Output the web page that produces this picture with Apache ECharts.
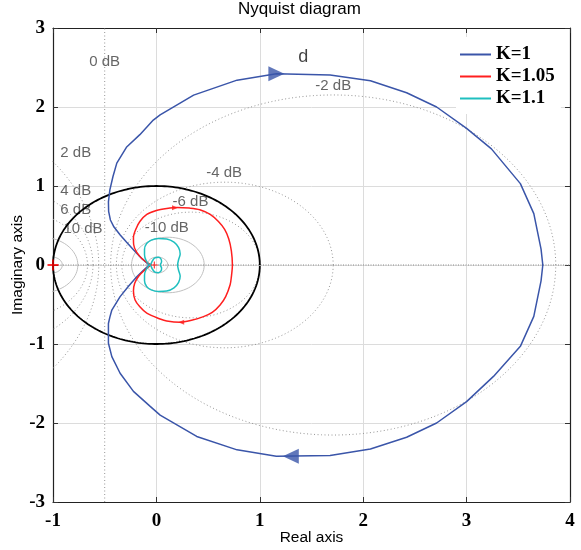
<!DOCTYPE html>
<html><head><meta charset="utf-8">
<script src="https://cdn.jsdelivr.net/npm/echarts@6/dist/echarts.min.js"></script>
<style>html,body{margin:0;padding:0;background:#fff}#c{width:581px;height:550px}</style>
</head><body><div id="c"></div>
<script>
// ---- axis ranges ----
const xRange = [-1, 4];
const yRange = [-3, 3];

// ---- M-circle levels (dB) ----
const dottedLevels = [-6, -4, -2, 2, 4, 6];
const solidLevels = [-20, -10, 10, 20];
const zeroDbX = -0.5;

// ---- dB label annotations ----
const dbLabelText = ['0 dB', '-2 dB', '2 dB', '-4 dB', '4 dB', '-6 dB', '6 dB', '-10 dB', '10 dB'];
const dbLabelX = [-0.5, 1.71, -0.78, 0.655, -0.78, 0.33, -0.78, 0.10, -0.71];
const dbLabelY = [2.57, 2.27, 1.42, 1.165, 0.94, 0.80, 0.70, 0.47, 0.46];

// ---- K = 1 (blue) ----
const blueRe = [-0.07, -0.14, -0.22, -0.29, -0.35, -0.41, -0.445, -0.462, -0.464, -0.45, -0.42, -0.383, -0.29, -0.16, -0.03, 0.036, 0.36, 0.78, 1.16, 1.68, 2.07, 2.42, 2.71, 3.0, 3.24, 3.52, 3.65, 3.72, 3.737,
  3.72, 3.65, 3.52, 3.26, 3.0, 2.71, 2.42, 2.07, 1.68, 1.16, 0.78, 0.39, 0.036, -0.06, -0.222, -0.351, -0.431, -0.464, -0.464, -0.45, -0.431, -0.351, -0.27, -0.19, -0.12, -0.07];
const blueIm = [0, 0.08, 0.19, 0.29, 0.38, 0.48, 0.57, 0.68, 0.8, 0.95, 1.12, 1.29, 1.49, 1.65, 1.835, 1.9, 2.15, 2.34, 2.42, 2.405, 2.333, 2.18, 2.0, 1.73, 1.47, 1.03, 0.65, 0.2, 0,
  -0.2, -0.65, -1.03, -1.41, -1.73, -2.0, -2.18, -2.33, -2.41, -2.42, -2.34, -2.17, -1.9, -1.79, -1.6, -1.37, -1.16, -0.99, -0.74, -0.66, -0.57, -0.4, -0.27, -0.148, -0.06, 0];

// ---- K = 1.05 (red) ----
const redRe = [-0.05, -0.13, -0.19, -0.22, -0.222, -0.2, -0.16, -0.093, 0.0, 0.1, 0.2, 0.32, 0.42, 0.52, 0.6, 0.66, 0.70, 0.725, 0.735,
  0.725, 0.713, 0.67, 0.616, 0.54, 0.455, 0.34, 0.229, 0.1, 0.036, -0.093, -0.16, -0.206, -0.222, -0.21, -0.17, -0.11, -0.05];
const redIm = [0, 0.07, 0.16, 0.26, 0.35, 0.45, 0.55, 0.64, 0.69, 0.715, 0.728, 0.72, 0.70, 0.64, 0.55, 0.45, 0.33, 0.18, 0,
  -0.15, -0.25, -0.4, -0.506, -0.6, -0.654, -0.7, -0.726, -0.71, -0.684, -0.61, -0.53, -0.443, -0.33, -0.23, -0.14, -0.06, 0];

// ---- K = 1.1 (cyan) ----
const cyanRe = [0.035, 0.05, 0.045, 0.02, -0.015, -0.04, -0.06, -0.1, -0.115, -0.115, -0.095, -0.05, 0.02, 0.1, 0.17, 0.215, 0.23, 0.215, 0.205,
  0.215, 0.23, 0.215, 0.17, 0.1, 0.02, -0.05, -0.095, -0.115, -0.115, -0.1, -0.06, -0.04, -0.015, 0.02, 0.045, 0.05, 0.035];
const cyanIm = [0, 0.04, 0.075, 0.097, 0.09, 0.05, 0, 0.06, 0.13, 0.2, 0.27, 0.315, 0.335, 0.33, 0.29, 0.22, 0.14, 0.07, 0,
  -0.07, -0.14, -0.22, -0.29, -0.33, -0.335, -0.315, -0.27, -0.2, -0.13, -0.06, 0, -0.05, -0.09, -0.097, -0.075, -0.04, 0];

// ---- direction arrows ----
const blueArrowX = [1.16, 1.30];
const blueArrowY = [2.42, -2.42];
const blueArrowDir = [-90, 90];
const redArrowX = [0.18, 0.24];
const redArrowY = [0.726, -0.726];
const redArrowDir = [-90, 90];

// ---- critical point & origin markers ----
const critX = [-1, -0.02];
const critY = [0, 0];

// ---- 'd' annotation ----
const dLabel = { text: 'd', x: 1.42, y: 2.63 };

const BLUE = '#3a55a9', RED = '#ff1f1f', CYAN = '#1fbfbf';

function zip(a, b) { return a.map((v, i) => [v, b[i]]); }
function mCircle(db) {
  const M = Math.pow(10, db / 20), M2 = M * M;
  const c = -M2 / (M2 - 1), r = Math.abs(M / (M2 - 1));
  const pts = [];
  for (let k = 0; k <= 720; k++) { const t = k / 720 * 2 * Math.PI; pts.push([c + r * Math.cos(t), r * Math.sin(t)]); }
  return pts;
}
function unitCircle() {
  const pts = [];
  for (let k = 0; k <= 720; k++) { const t = k / 720 * 2 * Math.PI; pts.push([Math.cos(t), Math.sin(t)]); }
  return pts;
}

const series = [];
solidLevels.forEach(db => series.push({
  type: 'line', data: mCircle(db), showSymbol: false, silent: true, z: 1,
  lineStyle: { color: '#c0c0c0', width: 1 }
}));
dottedLevels.forEach(db => series.push({
  type: 'line', data: mCircle(db), showSymbol: false, silent: true, z: 1,
  lineStyle: { color: '#959595', width: 1, type: [1, 2.5] }
}));
series.push({ type: 'line', data: [[zeroDbX, yRange[0]], [zeroDbX, yRange[1]]], showSymbol: false, silent: true, z: 1,
  lineStyle: { color: '#959595', width: 1, type: [1, 2.5] } });
series.push({ type: 'line', data: [[xRange[0], 0], [xRange[1], 0]], showSymbol: false, silent: true, z: 1,
  lineStyle: { color: '#888', width: 1, type: [1, 1.5] } });
series.push({
  type: 'scatter', silent: true, z: 3, symbolSize: 0,
  data: dbLabelX.map((x, i) => ({ value: [x, dbLabelY[i]], name: dbLabelText[i] })),
  label: { show: true, position: 'inside', formatter: '{b}', fontFamily: 'Liberation Sans', fontSize: 15, color: '#3f3f3f' }
});
series.push({
  type: 'scatter', silent: true, z: 3, symbolSize: 0,
  data: [{ value: [dLabel.x, dLabel.y], name: dLabel.text }],
  label: { show: true, position: 'inside', formatter: '{b}', fontFamily: 'Liberation Sans', fontSize: 18, color: '#111' }
});
series.push({ type: 'line', data: unitCircle(), showSymbol: false, silent: true, z: 4,
  lineStyle: { color: '#000', width: 1.8 } });
series.push({ name: 'K=1', type: 'line', data: zip(blueRe, blueIm), showSymbol: false, z: 6, color: BLUE,
  lineStyle: { color: BLUE, width: 1.5 } });
series.push({ name: 'K=1.05', type: 'line', data: zip(redRe, redIm), showSymbol: false, smooth: 0.3, z: 6, color: RED,
  lineStyle: { color: RED, width: 1.5 } });
series.push({ name: 'K=1.1', type: 'line', data: zip(cyanRe, cyanIm), showSymbol: false, smooth: 0.3, z: 6, color: CYAN,
  lineStyle: { color: CYAN, width: 1.5 } });
series.push({ type: 'scatter', silent: true, z: 7, symbol: 'triangle', symbolSize: [15, 16], clip: false,
  itemStyle: { color: BLUE },
  data: blueArrowX.map((x, i) => ({ value: [x, blueArrowY[i]], symbolRotate: blueArrowDir[i] })) });
series.push({ type: 'scatter', silent: true, z: 7, symbol: 'triangle', symbolSize: [5, 6], clip: false,
  itemStyle: { color: RED },
  data: redArrowX.map((x, i) => ({ value: [x, redArrowY[i]], symbolRotate: redArrowDir[i] })) });
series.push({ type: 'scatter', silent: true, z: 8, clip: false,
  symbol: 'path://M0,4.2 H10 V5.8 H0 Z M4.2,0 H5.8 V10 H4.2 Z',
  itemStyle: { color: '#ff0000' },
  data: critX.map((x, i) => ({ value: [x, critY[i]], symbolSize: i === 0 ? 11 : 7 })) });

const option = {
  animation: false,
  backgroundColor: '#fff',
  title: { text: 'Nyquist diagram', left: 238, top: 1, padding: 0,
    textStyle: { fontFamily: 'Liberation Sans', fontSize: 17, fontWeight: 'normal', color: '#000' } },
  legend: {
    data: ['K=1', 'K=1.05', 'K=1.1'], orient: 'vertical', left: 456, top: 37,
    icon: 'rect', itemWidth: 31, itemHeight: 2, itemGap: 3,
    padding: [8, 6, 6, 4], backgroundColor: '#fff', borderWidth: 0,
    textStyle: { fontFamily: 'Liberation Serif', fontWeight: 'bold', fontSize: 19, lineHeight: 19, color: '#000' }
  },
  grid: { left: 53, right: 11, top: 28, bottom: 48, containLabel: false, outerBoundsMode: 'none' },
  xAxis: [
    { type: 'value', min: xRange[0], max: xRange[1], interval: 1, position: 'bottom',
      name: 'Real axis', nameLocation: 'middle', nameGap: 28, nameMoveOverlap: false,
      nameTextStyle: { fontFamily: 'Liberation Sans', fontSize: 15.5, color: '#000' },
      axisLine: { show: true, onZero: false, lineStyle: { color: '#222', width: 1.2 } },
      axisTick: { show: true, inside: true, length: 5, lineStyle: { color: '#333' } },
      axisLabel: { fontFamily: 'Liberation Serif', fontWeight: 'bold', fontSize: 19, color: '#000', margin: 10 },
      splitLine: { show: true, lineStyle: { color: '#dcdcdc', width: 1 } } },
    { type: 'value', min: xRange[0], max: xRange[1], interval: 1, position: 'top',
      axisLine: { show: true, onZero: false, lineStyle: { color: '#222', width: 1.2 } },
      axisTick: { show: true, inside: true, length: 5, lineStyle: { color: '#333' } },
      axisLabel: { show: false }, splitLine: { show: false } }
  ],
  yAxis: [
    { type: 'value', min: yRange[0], max: yRange[1], interval: 1, position: 'left',
      name: 'Imaginary axis', nameLocation: 'middle', nameGap: 27, nameMoveOverlap: false,
      nameTextStyle: { fontFamily: 'Liberation Sans', fontSize: 15.5, color: '#000' },
      axisLine: { show: true, onZero: false, lineStyle: { color: '#222', width: 1.2 } },
      axisTick: { show: true, inside: true, length: 5, lineStyle: { color: '#333' } },
      axisLabel: { fontFamily: 'Liberation Serif', fontWeight: 'bold', fontSize: 19, color: '#000', margin: 8 },
      splitLine: { show: true, lineStyle: { color: '#dcdcdc', width: 1 } } },
    { type: 'value', min: yRange[0], max: yRange[1], interval: 1, position: 'right',
      axisLine: { show: true, onZero: false, lineStyle: { color: '#222', width: 1.2 } },
      axisTick: { show: true, inside: true, length: 5, lineStyle: { color: '#333' } },
      axisLabel: { show: false }, splitLine: { show: false } }
  ],
  series: series
};
const chart = echarts.init(document.getElementById('c'), null, { renderer: 'canvas' });
chart.setOption(option);
</script></body></html>
